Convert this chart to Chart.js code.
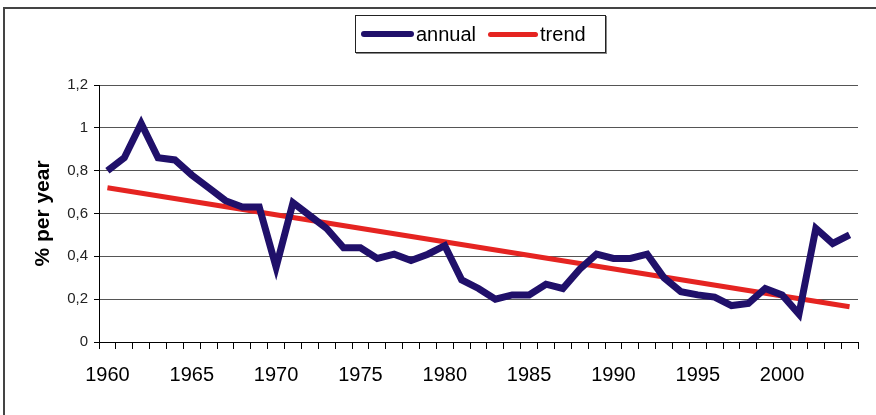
<!DOCTYPE html>
<html>
<head>
<meta charset="utf-8">
<script src="https://cdn.jsdelivr.net/npm/chart.js@4.4.1/dist/chart.umd.min.js"></script>
<style>
    body { margin: 0; background: #fff; font-family: "Liberation Sans", Arial, sans-serif; }
    #wrap { position: relative; width: 876px; height: 415px; overflow: hidden; }
    #frame { position: absolute; left: 3px; top: 7px; width: 900px; height: 440px; border-top: 2px solid #444; border-left: 2px solid #444; }
    #legend { position: absolute; left: 355px; top: 15px; width: 249px; height: 36px; border: 1px solid #222;
              box-shadow: 1px 1px 0 #888; background: #fff; display: flex; align-items: center; font-size: 20px; color: #000; }
    .swatch { display: inline-block; height: 6px; border-radius: 3px; margin-left: 5px; margin-right: 2px; }
    #chart { position: absolute; left: 0; top: 0; }
</style>
</head>
<body>
<div id="wrap">
    <div id="frame"></div>
    <canvas id="chart" width="876" height="415"></canvas>
    <div id="legend">
        <span class="swatch" style="width:53px;background:#20106a"></span><span>annual</span>
        <span class="swatch" style="width:50px;height:5px;background:#e52421;margin-left:12px"></span><span>trend</span>
    </div>
</div>
<script>
// Years 1960-2004
const years = [];
for (let y = 1960; y <= 2004; y++) years.push(String(y));

// annual growth, % per year
const annual = [
    0.80, 0.86, 1.02, 0.86, 0.85, 0.78, 0.72, 0.66, 0.63, 0.63,
    0.35, 0.65, 0.59, 0.53, 0.44, 0.44, 0.39, 0.41, 0.38, 0.41,
    0.45, 0.29, 0.25, 0.20, 0.22, 0.22, 0.27, 0.25, 0.34, 0.41,
    0.39, 0.39, 0.41, 0.30, 0.235, 0.22, 0.21, 0.17, 0.18, 0.25,
    0.22, 0.13, 0.53, 0.46, 0.50
];

// trend line: only its two end values, the library joins them
const trendStart = 0.72;
const trendEnd = 0.165;
const trend = years.map((y, i) => i === 0 ? trendStart : (i === years.length - 1 ? trendEnd : null));

const yTicks = [0, 0.2, 0.4, 0.6, 0.8, 1, 1.2];

new Chart(document.getElementById("chart").getContext("2d"), {
    type: "line",
    data: {
        labels: years,
        datasets: [
            {
                label: "trend",
                data: trend,
                borderColor: "#e52421",
                borderWidth: 5,
                pointRadius: 0,
                spanGaps: true,
                order: 2,
            },
            {
                label: "annual",
                data: annual,
                borderColor: "#20106a",
                borderWidth: 7,
                pointRadius: 0,
                tension: 0,
                borderJoinStyle: "miter",
                order: 1,
            },
        ],
    },
    options: {
        responsive: false,
        animation: false,
        devicePixelRatio: 1,
        layout: { padding: { left: 31, right: 18, top: 85, bottom: 0 } },
        plugins: { legend: { display: false }, tooltip: { enabled: false } },
        scales: {
            x: {
                type: "category",
                offset: true,
                afterFit: (scale) => { scale.height = 73; },
                grid: { offset: true, drawOnChartArea: false, drawTicks: true, tickLength: 7, color: "#000", tickColor: "#000" },
                border: { color: "#000", width: 1 },
                ticks: {
                    autoSkip: false,
                    maxRotation: 0,
                    padding: 14,
                    color: "#000",
                    font: { family: "Liberation Sans", size: 20 },
                    callback: function (val, i) {
                        const y = years[i];
                        return Number(y) % 5 === 0 ? y : "";
                    },
                },
            },
            y: {
                min: 0,
                max: 1.2,
                afterFit: (scale) => { scale.width = 68; },
                afterBuildTicks: (scale) => { scale.ticks = yTicks.map((v) => ({ value: v })); },
                grid: { color: "#555", tickLength: 5, tickColor: "#000" },
                border: { color: "#000", width: 1 },
                title: {
                    display: true,
                    text: "% per year",
                    color: "#000",
                    font: { family: "Liberation Sans", size: 21, weight: "bold" },
                    padding: { top: 0, bottom: 0 },
                },
                ticks: {
                    color: "#222",
                    padding: 6,
                    font: { family: "Liberation Sans", size: 15 },
                    callback: (v) => String(Math.round(v * 10) / 10).replace(".", ","),
                },
            },
        },
    },
});
</script>
</body>
</html>
